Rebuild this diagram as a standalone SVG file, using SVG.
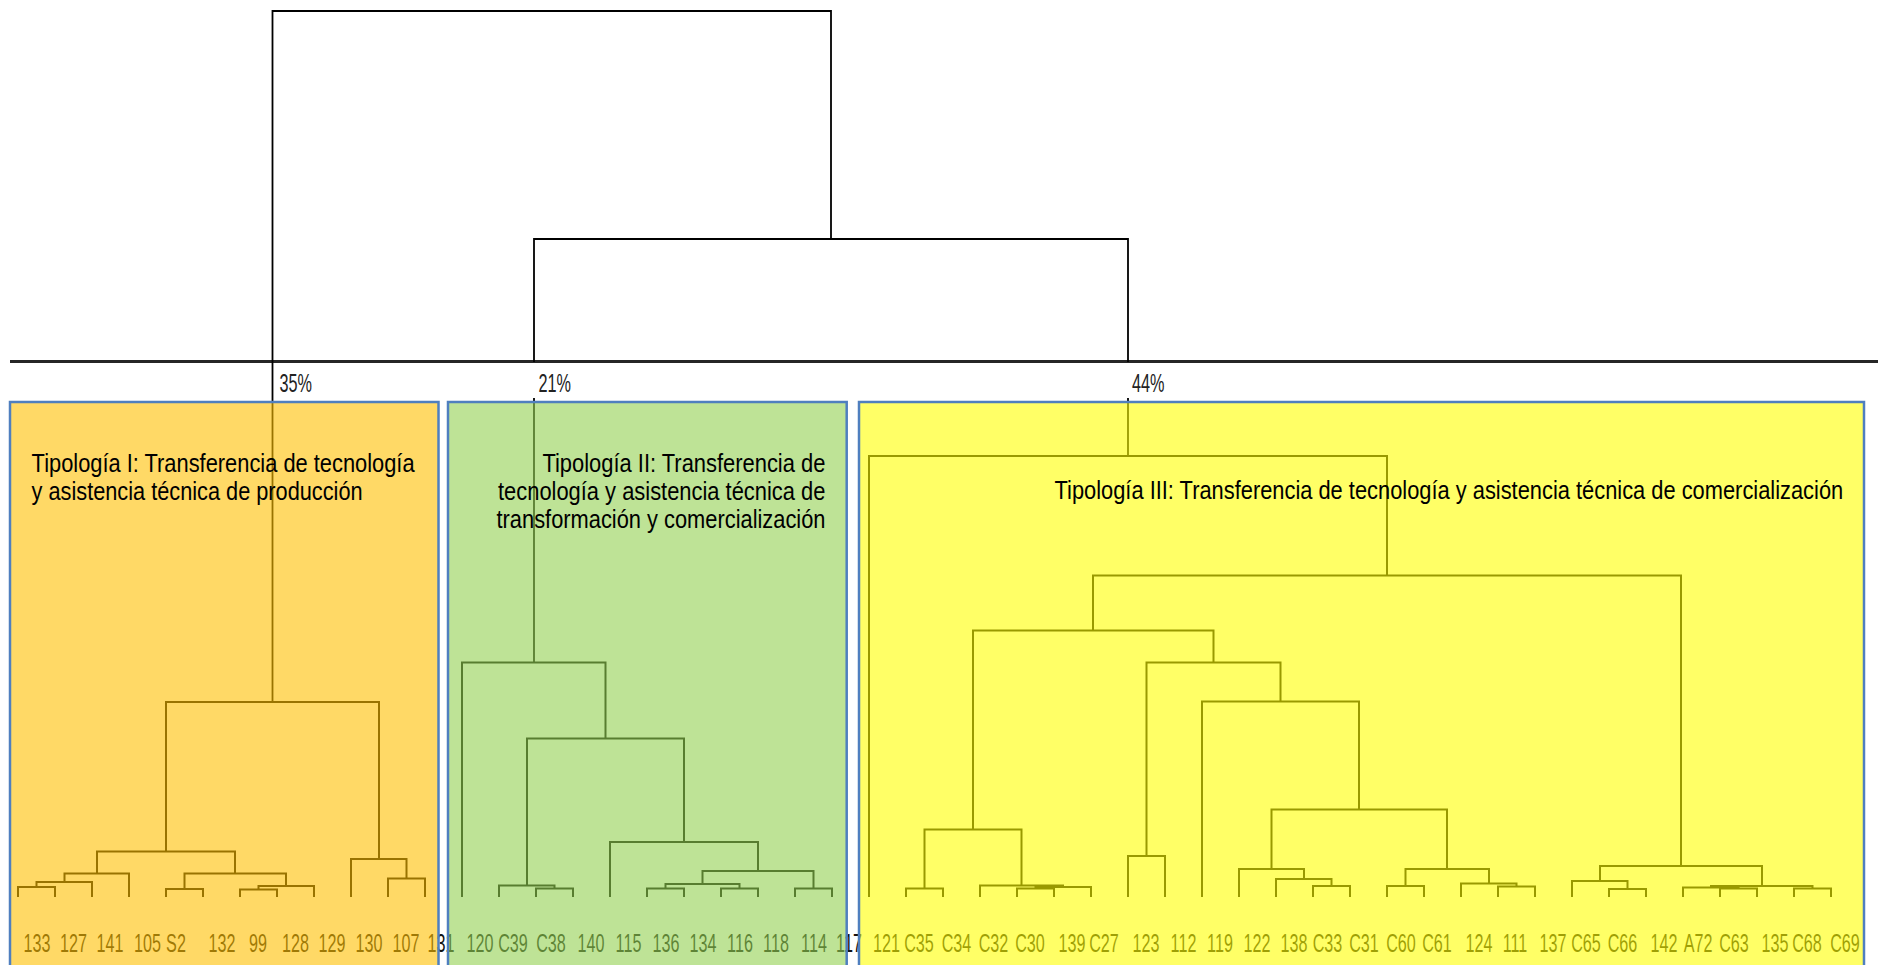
<svg xmlns="http://www.w3.org/2000/svg" width="1878" height="965" viewBox="0 0 1878 965">
  <style>
    .tree { fill: none; stroke: #000; stroke-width: 2; stroke-linejoin: miter; stroke-linecap: butt; }
    .upper { fill: none; stroke: #000; stroke-width: 1.8; }
    .axis { stroke: #262626; stroke-width: 3; }
    .leaf { font-family: "Liberation Sans", Arial, sans-serif; font-size: 26.5px; text-anchor: middle; fill: #111; }
    .pct { font-family: "Liberation Sans", Arial, sans-serif; font-size: 25px; fill: #222; }
    .box { stroke: #4F7FBF; stroke-width: 2.5; fill-opacity: 0.6; }
    .tip { font-family: "Liberation Sans", Arial, sans-serif; font-size: 25.5px; fill: #000; }
  </style>

  <rect width="1878" height="965" fill="#fff"/>

  <!-- dendrogram connectors -->
  <g id="connectors">
    <!-- cut line -->
    <line class="axis" x1="10" y1="361.5" x2="1878" y2="361.5"/>
    <!-- upper merges -->
    <path class="upper" d="M272.5,702 V11 H831 V239"/>
    <path class="upper" d="M534,362 V239 H1128 V362"/>
    <path class="upper" d="M534,398 V662.5 M1128,398 V456"/>
    <!-- group I -->
    <path class="tree" d="
      M18,897 V887 H55 V897
      M36.5,887 V882 H92 V897
      M64.5,882 V873.5 H129 V897
      M166,897 V889 H203 V897
      M240,897 V889.5 H277 V897
      M258.5,889.5 V886 H314 V897
      M184.5,889 V873.5 H286 V886
      M97,873.5 V851.5 H235 V873.5
      M388,897 V878.5 H425 V897
      M351,897 V859 H406.5 V878.5
      M166,851.5 V702 H379 V859"/>
    <!-- group II -->
    <path class="tree" d="
      M536,897 V888.5 H573 V897
      M499,897 V885.5 H554.5 V888.5
      M647,897 V888.5 H684 V897
      M721,897 V888.5 H758 V897
      M665.5,888.5 V884 H739.5 V888.5
      M795,897 V888.5 H832 V897
      M702.5,884 V871 H813.5 V888.5
      M610,897 V842 H758 V871
      M527,885.5 V738.5 H684 V842
      M462,897 V662.5 H605.5 V738.5"/>
    <!-- group III -->
    <path class="tree" d="
      M906,897 V888.5 H943 V897
      M1017,897 V888.5 H1054 V897
      M1035.5,888.5 V887 H1091 V897
      M980,897 V885.5 H1063 V887
      M924.5,888.5 V829.5 H1021.5 V885.5
      M1128,897 V856 H1165 V897
      M1313,897 V886 H1350 V897
      M1276,897 V879 H1331.5 V886
      M1239,897 V869 H1304 V879
      M1387,897 V886 H1424 V897
      M1498,897 V886.5 H1535 V897
      M1461,897 V883.5 H1516.5 V886.5
      M1405.5,886 V869 H1489 V883.5
      M1271.5,869 V809.5 H1447 V869
      M1202,897 V701.5 H1359 V809.5
      M1146.5,856 V662.5 H1280.5 V701.5
      M973,829.5 V630.5 H1213.5 V662.5
      M1609,897 V889 H1646 V897
      M1572,897 V881 H1627.5 V889
      M1720,897 V888.5 H1757 V897
      M1683,897 V887.5 H1738.5 V888.5
      M1794,897 V888.5 H1831 V897
      M1711,887.5 V886 H1812.5 V888.5
      M1600,881 V866 H1762 V886
      M1093,630.5 V575.5 H1681 V866
      M869,897 V456 H1387 V575.5"/>
  </g>

  <!-- leaf labels -->
  <g id="leaf-labels" class="leaf">
    <text transform="translate(37 951.5) scale(.61 1)">133</text>
    <text transform="translate(73.5 951.5) scale(.61 1)">127</text>
    <text transform="translate(110 951.5) scale(.61 1)">141</text>
    <text transform="translate(147.5 951.5) scale(.61 1)">105</text>
    <text transform="translate(176 951.5) scale(.61 1)">S2</text>
    <text transform="translate(222 951.5) scale(.61 1)">132</text>
    <text transform="translate(258 951.5) scale(.61 1)">99</text>
    <text transform="translate(295.5 951.5) scale(.61 1)">128</text>
    <text transform="translate(332 951.5) scale(.61 1)">129</text>
    <text transform="translate(369 951.5) scale(.61 1)">130</text>
    <text transform="translate(406 951.5) scale(.61 1)">107</text>
    <text transform="translate(441 951.5) scale(.61 1)">131</text>
    <text transform="translate(480 951.5) scale(.61 1)">120</text>
    <text transform="translate(513 951.5) scale(.61 1)">C39</text>
    <text transform="translate(551 951.5) scale(.61 1)">C38</text>
    <text transform="translate(591 951.5) scale(.61 1)">140</text>
    <text transform="translate(628.5 951.5) scale(.61 1)">115</text>
    <text transform="translate(666 951.5) scale(.61 1)">136</text>
    <text transform="translate(703 951.5) scale(.61 1)">134</text>
    <text transform="translate(740 951.5) scale(.61 1)">116</text>
    <text transform="translate(776 951.5) scale(.61 1)">118</text>
    <text transform="translate(814 951.5) scale(.61 1)">114</text>
    <text transform="translate(849 951.5) scale(.61 1)">117</text>
    <text transform="translate(886.5 951.5) scale(.61 1)">121</text>
    <text transform="translate(919 951.5) scale(.61 1)">C35</text>
    <text transform="translate(956.5 951.5) scale(.61 1)">C34</text>
    <text transform="translate(993.5 951.5) scale(.61 1)">C32</text>
    <text transform="translate(1030 951.5) scale(.61 1)">C30</text>
    <text transform="translate(1072 951.5) scale(.61 1)">139</text>
    <text transform="translate(1104 951.5) scale(.61 1)">C27</text>
    <text transform="translate(1146 951.5) scale(.61 1)">123</text>
    <text transform="translate(1183.5 951.5) scale(.61 1)">112</text>
    <text transform="translate(1220 951.5) scale(.61 1)">119</text>
    <text transform="translate(1257 951.5) scale(.61 1)">122</text>
    <text transform="translate(1294 951.5) scale(.61 1)">138</text>
    <text transform="translate(1327.5 951.5) scale(.61 1)">C33</text>
    <text transform="translate(1364 951.5) scale(.61 1)">C31</text>
    <text transform="translate(1401 951.5) scale(.61 1)">C60</text>
    <text transform="translate(1437 951.5) scale(.61 1)">C61</text>
    <text transform="translate(1479 951.5) scale(.61 1)">124</text>
    <text transform="translate(1515 951.5) scale(.61 1)">111</text>
    <text transform="translate(1553 951.5) scale(.61 1)">137</text>
    <text transform="translate(1586 951.5) scale(.61 1)">C65</text>
    <text transform="translate(1622.5 951.5) scale(.61 1)">C66</text>
    <text transform="translate(1664 951.5) scale(.61 1)">142</text>
    <text transform="translate(1698 951.5) scale(.61 1)">A72</text>
    <text transform="translate(1734 951.5) scale(.61 1)">C63</text>
    <text transform="translate(1775 951.5) scale(.61 1)">135</text>
    <text transform="translate(1807 951.5) scale(.61 1)">C68</text>
    <text transform="translate(1845 951.5) scale(.61 1)">C69</text>
  </g>

  <!-- share of each group at the cut -->
  <g id="shares" class="pct">
    <text transform="translate(279.5 391.7) scale(.65 1)">35%</text>
    <text transform="translate(538.5 391.7) scale(.65 1)">21%</text>
    <text transform="translate(1132 391.7) scale(.65 1)">44%</text>
  </g>

  <!-- typology groups -->
  <g id="tipologia-1">
    <rect class="box" x="10" y="402" width="428.5" height="580" fill="#FFC000"/>
    <text class="tip" x="31.6" y="471.7" textLength="383" lengthAdjust="spacingAndGlyphs">Tipología I: Transferencia de tecnología</text>
    <text class="tip" x="31.6" y="499.5" textLength="331" lengthAdjust="spacingAndGlyphs">y asistencia técnica de producción</text>
  </g>

  <g id="tipologia-2">
    <rect class="box" x="448" y="402" width="398.7" height="580" fill="#92D050"/>
    <text class="tip" x="542.4" y="471.7" textLength="283" lengthAdjust="spacingAndGlyphs">Tipología II: Transferencia de</text>
    <text class="tip" x="498" y="500" textLength="327.4" lengthAdjust="spacingAndGlyphs">tecnología y asistencia técnica de</text>
    <text class="tip" x="496.5" y="528.3" textLength="329" lengthAdjust="spacingAndGlyphs">transformación y comercialización</text>
  </g>

  <g id="tipologia-3">
    <rect class="box" x="859" y="402" width="1005" height="580" fill="#FFFF00"/>
    <text class="tip" x="1054.5" y="499" textLength="788.7" lengthAdjust="spacingAndGlyphs">Tipología III: Transferencia de tecnología y asistencia técnica de comercialización</text>
  </g>
</svg>
